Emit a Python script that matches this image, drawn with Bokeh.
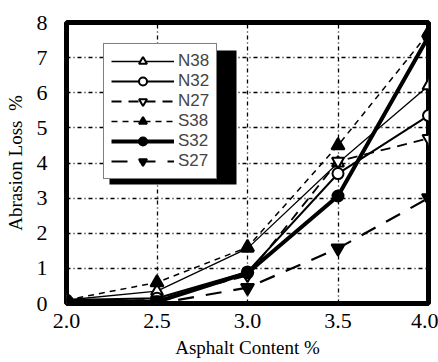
from bokeh.plotting import figure
from bokeh.models import (Range1d, FixedTicker, PrintfTickFormatter, Legend, LegendItem,
                          BoxAnnotation)
from bokeh.embed import file_html
from bokeh.resources import INLINE

asphalt = [2.0, 2.5, 3.0, 3.5, 4.0]
n38 = [0.1, 0.35, 1.57, 4.0, 6.2]
n32 = [0.1, 0.15, 0.9, 3.7, 5.35]
n27 = [0.05, 0.1, 0.8, 4.05, 4.7]
s38 = [0.1, 0.6, 1.6, 4.5, 7.7]
s32 = [0.05, 0.05, 0.87, 3.06, 7.6]
s27 = [0.0, 0.0, 0.45, 1.57, 3.0]

x_ticks = [2.0, 2.5, 3.0, 3.5, 4.0]
y_ticks = [0, 1, 2, 3, 4, 5, 6, 7, 8]

p = figure(width=438, height=362, output_backend="svg", toolbar_location=None,
           x_range=Range1d(2.0, 4.0), y_range=Range1d(0, 8),
           min_border_left=66, min_border_right=10, min_border_top=22, min_border_bottom=59)

p.outline_line_color = "black"
p.outline_line_width = 5
p.background_fill_color = "white"
p.border_fill_color = "white"

for ax in (p.xaxis[0], p.yaxis[0]):
    ax.axis_line_color = None
    ax.major_tick_line_color = None
    ax.minor_tick_line_color = None
    ax.major_label_text_font = "Liberation Serif"
    ax.major_label_text_font_size = "22px"
    ax.major_label_text_color = "black"
    ax.axis_label_text_font = "Liberation Serif"
    ax.axis_label_text_font_size = "19px"
    ax.axis_label_text_font_style = "normal"
    ax.axis_label_text_color = "black"

p.xaxis.ticker = FixedTicker(ticks=x_ticks)
p.xaxis.formatter = PrintfTickFormatter(format="%.1f")
p.yaxis.ticker = FixedTicker(ticks=y_ticks)
p.xaxis.axis_label = "Asphalt Content %"
p.yaxis.axis_label = "Abrasion Loss\u00a0\u00a0%"
p.xaxis.major_label_standoff = 4
p.yaxis.major_label_standoff = 13
p.xaxis.axis_label_standoff = 6
p.yaxis.axis_label_standoff = 8

for g in (p.xgrid[0], p.ygrid[0]):
    g.grid_line_color = "black"
    g.grid_line_width = 1.3
    g.grid_line_dash = "4 3 1 3"
p.xgrid.ticker = FixedTicker(ticks=x_ticks)
p.ygrid.ticker = FixedTicker(ticks=y_ticks)

series = [
    ("N38", n38, 1.3, "solid", "triangle", "white", 12),
    ("N32", n32, 2.0, "solid", "circle", "white", 11),
    ("N27", n27, 1.8, "10 7", "inverted_triangle", "white", 12),
    ("S38", s38, 1.5, "6 5", "triangle", "black", 13),
    ("S32", s32, 4.0, "solid", "circle", "black", 11),
    ("S27", s27, 2.2, "16 12", "inverted_triangle", "black", 13),
]

items = []
for name, ys, lw, dash, marker, fill, size in series:
    r1 = p.line(asphalt, ys, line_color="black", line_width=lw, line_dash=dash)
    r2 = p.scatter(asphalt, ys, marker=marker, size=size, fill_color=fill,
                   line_color="black", line_width=2)
    items.append(LegendItem(label=name, renderers=[r1, r2]))

# drop shadow of the legend box (screen units measured from the frame's bottom-left)
shadow = BoxAnnotation(left=43, right=170, top=253, bottom=119,
                       left_units="screen", right_units="screen",
                       top_units="screen", bottom_units="screen",
                       fill_color="black", fill_alpha=1.0, line_color=None)
p.add_layout(shadow)

legend = Legend(items=items, location=(37, 124))
legend.border_line_color = "black"
legend.border_line_width = 1.5
legend.background_fill_color = "white"
legend.background_fill_alpha = 1.0
legend.label_text_font = "Liberation Sans"
legend.label_text_font_size = "17px"
legend.glyph_width = 63
legend.glyph_height = 20
legend.label_height = 20
legend.label_standoff = 4
legend.spacing = 0
legend.padding = 7
legend.margin = 0
p.add_layout(legend, "center")

open("out.html", "w").write(file_html(p, INLINE))
